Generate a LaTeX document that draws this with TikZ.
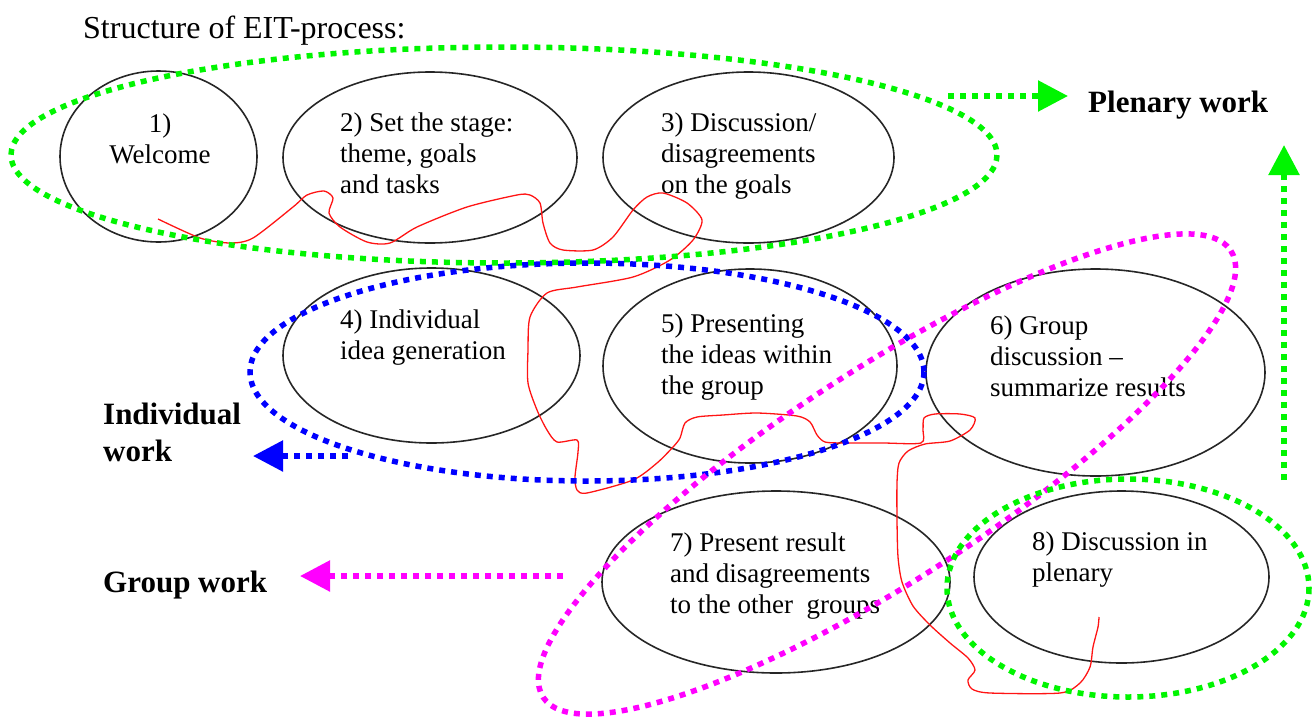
\documentclass[tikz,border=0pt]{standalone}
\usepackage{fontspec}
\setmainfont{Liberation Serif}
\usetikzlibrary{shapes.geometric,arrows.meta}
\definecolor{plgreen}{RGB}{0,245,0}
\definecolor{indblue}{RGB}{0,0,255}
\definecolor{grpmag}{RGB}{255,0,255}
\definecolor{flowred}{RGB}{255,20,20}
\begin{document}
\begin{tikzpicture}[x=1pt,y=-1pt,
  stage/.style={ellipse, draw=black!85, line width=1.6pt, inner sep=0pt},
  % text nodes are placed by the baseline of their last line
  stagetext/.style={anchor=base west, align=left, inner sep=0pt,
    font=\fontsize{27}{31}\selectfont},
  worklabel/.style={anchor=base west, align=left, inner sep=0pt,
    font=\fontsize{31}{37}\selectfont\bfseries},
  dots/.style={line width=5.5pt, dash pattern=on 6pt off 6pt},
  tipped/.style={-{Triangle[length=30pt 0 0, width=30pt 0 0]}},
  flow/.style={flowred, line width=1.3pt, line join=round}
]
\useasboundingbox (0,0) rectangle (1313,718);

% title
\node[anchor=base west, inner sep=0pt, font=\fontsize{32}{36}\selectfont]
  (title) at (83,38) {Structure of EIT-process:};

% the eight stages
\node[stage, minimum width=197pt, minimum height=171pt] (e1) at (158.5,156.5) {};
\node[stage, minimum width=294pt, minimum height=171pt] (e2) at (430,157.5) {};
\node[stage, minimum width=291pt, minimum height=171pt] (e3) at (748.5,157.5) {};
\node[stage, minimum width=297pt, minimum height=175pt] (e4) at (431.5,355.5) {};
\node[stage, minimum width=294pt, minimum height=194pt] (e5) at (750,366) {};
\node[stage, minimum width=339pt, minimum height=207pt] (e6) at (1095.5,372.5) {};
\node[stage, minimum width=348pt, minimum height=182pt] (e7) at (776,582) {};
\node[stage, minimum width=295pt, minimum height=172pt] (e8) at (1121.5,577) {};

% stage texts
\node[stagetext, anchor=base, align=center] (t1) at (160,163) {1)\\Welcome};
\node[stagetext] (t2) at (340,193) {2) Set the stage:\\theme, goals\\and tasks};
\node[stagetext] (t3) at (661,193) {3) Discussion/\\disagreements\\on the goals};
\node[stagetext] (t4) at (340,359) {4) Individual\\idea generation};
\node[stagetext] (t5) at (661,394) {5) Presenting\\the ideas within\\the group};
\node[stagetext] (t6) at (990,396) {6) Group\\discussion –\\summarize results};
\node[stagetext] (t7) at (670,613) {7) Present result\\and disagreements\\to the other\ \ groups};
\node[stagetext] (t8) at (1032,581) {8) Discussion in\\plenary};

% hand-drawn path through the process
\draw[flow] plot[smooth, tension=0.45] coordinates {
  (158,219) (200,238) (230,243) (253,238) (293,207) (307,195) (324,191) (333,198)
  (329,213) (340,227) (367,242) (390,243) (417,227) (467,207) (517,195) (530,195)
  (540,203) (543,223) (550,243) (563,250) (593,250) (613,237) (633,210) (647,197)
  (663,193) (687,203) (702,220) (693,240) (670,260) (633,277) (577,287) (547,293)
  (530,317) (528,350) (528,383) (537,410) (547,430) (557,442) (577,440) (578,452)
  (575,477) (577,490) (587,493) (633,480) (657,463) (673,447) (680,438) (685,423)
  (697,417) (723,415) (757,413) (797,416) (810,422) (817,435) (825,442) (843,443)
  (883,443) (921,443) (923,430) (924,418) (935,414) (960,414) (975,418) (970,430)
  (950,441) (925,444) (908,451) (899,463) (897,483) (897,520) (898,557) (902,582)
  (913,606) (930,625) (950,643) (968,658) (975,670) (968,680) (972,689) (990,693)
  (1060,693) (1080,683) (1090,667) (1093,647) (1098,627) (1099,617)};

% work-form labels
\node[worklabel] (plenary) at (1088,112) {Plenary work};
\node[worklabel] (individual) at (103,461) {Individual\\work};
\node[worklabel] (group) at (103,592) {Group work};

% groupings
\draw[plgreen, dots] (504,155) ellipse [x radius=493, y radius=108];
\draw[indblue, dots] (587,372) ellipse [x radius=337, y radius=109];
\draw[grpmag, dots, rotate around={33:(887,474)}] (887,474) ellipse [x radius=410, y radius=105];
\draw[plgreen, dots] (1128,588) ellipse [x radius=181, y radius=109];

% arrows from the groupings to their labels
\coordinate (plA) at (948,96);
\coordinate (plB) at (1068,96);
\coordinate (plC) at (1284,480);
\coordinate (plD) at (1284,145);
\coordinate (inA) at (348,456);
\coordinate (inB) at (253,456);
\coordinate (grA) at (563,576);
\coordinate (grB) at (300,576);
\draw[plgreen, dots, tipped] (plA) -- (plB);
\draw[plgreen, dots, tipped] (plC) -- (plD);
\draw[indblue, dots, tipped] (inA) -- (inB);
\draw[grpmag, dots, tipped] (grA) -- (grB);
\end{tikzpicture}
\end{document}
